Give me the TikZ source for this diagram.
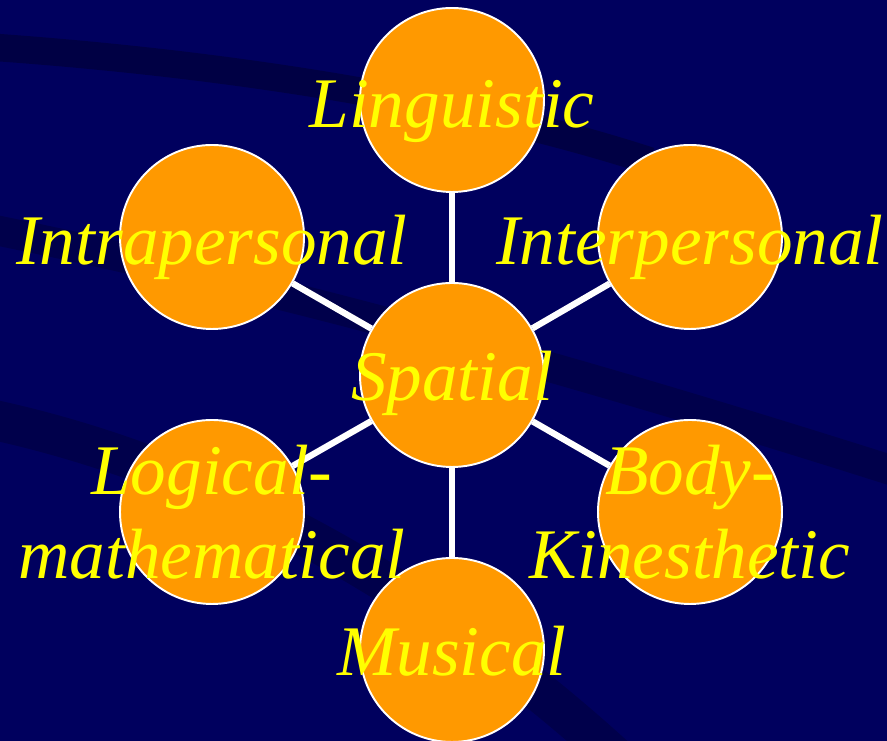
\documentclass[tikz,border=0pt]{standalone}
\usepackage{fontspec}
\setmainfont{Liberation Serif}
\usepackage{xcolor}
\usepackage{tikz}
\definecolor{slidebg}{RGB}{0, 0, 94}
\definecolor{bandnavy}{RGB}{0, 0, 52}
\definecolor{blobfill}{RGB}{255, 153, 0}
\definecolor{labelyellow}{RGB}{255, 255, 0}

\begin{document}
\begin{tikzpicture}[
    blob/.style={circle, fill=blobfill, draw=white, line width=1.1pt,
      minimum size=3.68cm, inner sep=0pt},
    spoke/.style={white, line width=3.6pt},
    lbl/.style={labelyellow, font=\fontsize{40.5}{48}\selectfont\itshape,
      inner sep=0pt, anchor=base, align=center}
  ]
    \clip (0,0) rectangle (17.74,14.82);
    \fill[slidebg] (0,0) rectangle (17.74,14.82);

    %% background swooshes
    \draw[bandnavy, line width=0.55cm, opacity=0.6]
      (-0.5,13.9) .. controls (4,13.6) and (9,12.9) .. (13,11.6);
    \draw[bandnavy, line width=0.6cm, opacity=0.45]
      (-0.5,10.3) .. controls (5,9.2) and (11,7.6) .. (18.5,5.2);
    \draw[bandnavy, line width=0.8cm, opacity=0.45]
      (-0.5,6.5) .. controls (4,5.6) and (8.5,3.2) .. (12.5,-0.5);

    %% circles
    \node[blob] (spatial) at (9.04,7.32) {};
    \node[blob] (ling)    at (9.04,12.82) {};
    \node[blob] (intra)   at (4.24,10.08) {};
    \node[blob] (inter)   at (13.80,10.08) {};
    \node[blob] (logic)   at (4.24,4.58) {};
    \node[blob] (body)    at (13.80,4.58) {};
    \node[blob] (music)   at (9.04,1.82) {};

    %% spokes
    \foreach \n in {ling, intra, inter, logic, body, music}
      \draw[spoke] (spatial) -- (\n);

    %% labels
    \node[lbl] (spatialtxt) at ([yshift=-0.52cm]spatial.center) {Spatial};
    \node[lbl] (lingtxt)    at ([yshift=-0.56cm]ling.center) {Linguistic};
    \node[lbl] (intratxt)   at ([yshift=-0.56cm]intra.center) {Intrapersonal};
    \node[lbl] (intertxt)   at ([yshift=-0.56cm]inter.center) {Interpersonal};
    \node[lbl] (logictxt)   at ([yshift=-1.34cm]logic.center) {Logical-\\mathematical};
    \node[lbl] (bodytxt)    at ([yshift=-1.34cm]body.center) {Body-\\Kinesthetic};
    \node[lbl] (musictxt)   at ([yshift=-0.52cm]music.center) {Musical};
  \end{tikzpicture}
\end{document}
